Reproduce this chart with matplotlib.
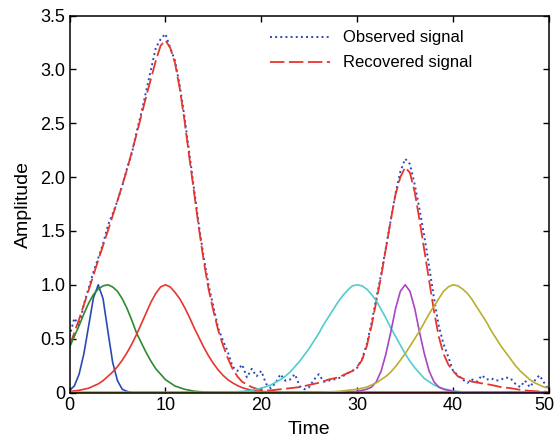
import matplotlib
matplotlib.use("Agg")
import matplotlib.pyplot as plt
import matplotlib.transforms as mtransforms

plt.rcParams['font.family'] = ['Liberation Sans', 'DejaVu Sans']

# observed (noisy) signal
obs_x = [0, 0.5, 1, 1.5, 2, 2.5, 3, 3.5, 4, 4.5, 5, 5.5, 6, 6.5, 7, 7.5, 8, 8.5, 9, 9.5,
         10, 10.5, 11, 11.5, 12, 12.5, 13, 13.5, 14, 14.5, 15, 15.5, 16, 16.5, 17, 17.5, 18, 18.5, 19, 19.5,
         20, 20.5, 21, 21.5, 22, 22.5, 23, 23.5, 24, 24.5, 25, 25.5, 26, 26.5, 27, 27.5, 28, 28.5, 29, 29.5,
         30, 30.5, 31, 31.5, 32, 32.5, 33, 33.5, 34, 34.5, 35, 35.5, 36, 36.5, 37, 37.5, 38, 38.5, 39, 39.5,
         40, 40.5, 41, 41.5, 42, 42.5, 43, 43.5, 44, 44.5, 45, 45.5, 46, 46.5, 47, 47.5, 48, 48.5, 49, 49.5, 50]
obs_y = [0.52, 0.69, 0.62, 0.82, 0.97, 1.12, 1.25, 1.38, 1.55, 1.66, 1.78, 1.92, 2.08, 2.22, 2.42, 2.60, 2.80, 3.00, 3.20, 3.28,
         3.33, 3.20, 3.08, 2.85, 2.55, 2.22, 1.88, 1.55, 1.25, 1.00, 0.80, 0.60, 0.48, 0.38, 0.24, 0.20, 0.26, 0.14, 0.22, 0.15,
         0.20, 0.08, 0.04, 0.09, 0.17, 0.11, 0.12, 0.17, 0.06, 0.03, 0.05, 0.12, 0.17, 0.10, 0.11, 0.12, 0.13, 0.15, 0.18, 0.20,
         0.23, 0.31, 0.45, 0.65, 0.88, 1.10, 1.35, 1.60, 1.85, 2.05, 2.17, 2.12, 1.93, 1.70, 1.45, 1.17, 0.88, 0.62, 0.45, 0.33,
         0.20, 0.16, 0.12, 0.09, 0.12, 0.10, 0.16, 0.12, 0.13, 0.11, 0.12, 0.14, 0.13, 0.08, 0.05, 0.11, 0.05, 0.11, 0.16, 0.09, 0.02]

# recovered signal
rec_x = [0, 1, 2, 3, 4, 5, 6, 7, 8, 9, 9.5, 10, 10.5, 11, 11.5, 12, 12.5, 13, 13.5, 14, 14.5, 15, 15.5, 16, 16.5,
         17, 17.5, 18, 19, 20, 21, 22, 23, 24, 25, 26, 27, 28, 29, 29.5, 30, 30.5, 31, 31.5, 32, 32.5, 33, 33.5,
         34, 34.5, 35, 35.5, 36, 36.5, 37, 37.5, 38, 38.5, 39, 39.5, 40, 40.5, 41, 42, 43, 44, 45, 46, 47, 48, 49, 50]
rec_y = [0.43, 0.68, 0.95, 1.23, 1.50, 1.78, 2.07, 2.40, 2.75, 3.08, 3.22, 3.27, 3.20, 3.06, 2.82, 2.52, 2.18, 1.85, 1.52, 1.22, 0.96, 0.76, 0.58, 0.44, 0.32,
         0.22, 0.15, 0.10, 0.05, 0.02, 0.02, 0.03, 0.04, 0.05, 0.07, 0.09, 0.12, 0.14, 0.18, 0.20, 0.24, 0.30, 0.43, 0.62, 0.85, 1.08, 1.34, 1.60,
         1.84, 2.00, 2.09, 2.04, 1.86, 1.60, 1.32, 1.04, 0.76, 0.52, 0.36, 0.26, 0.20, 0.15, 0.13, 0.10, 0.085, 0.07, 0.05, 0.04, 0.025, 0.015, 0.01, 0.005]

# components
c1_x = [0, 0.5, 1, 1.5, 2, 2.5, 3, 3.5, 4, 4.5, 5, 5.5, 6, 6.5, 7, 50]
c1_y = [0.02, 0.06, 0.17, 0.36, 0.62, 0.88, 1.0, 0.87, 0.57, 0.28, 0.11, 0.03, 0.01, 0.0, 0.0, 0.0]

c2_x = [0, 0.5, 1, 1.5, 2, 2.5, 3, 3.5, 4, 4.5, 5, 5.5, 6, 6.5, 7, 7.5, 8, 8.5, 9, 9.5,
        10, 10.5, 11, 11.5, 12, 13, 14, 15, 50]
c2_y = [0.42, 0.52, 0.62, 0.73, 0.83, 0.91, 0.96, 0.99, 1.0, 0.98, 0.94, 0.87, 0.78, 0.67, 0.55, 0.46, 0.37, 0.29, 0.22, 0.17,
        0.12, 0.09, 0.06, 0.045, 0.03, 0.012, 0.005, 0.0, 0.0]

c3_x = [0, 1, 2, 2.5, 3, 3.5, 4, 4.5, 5, 5.5, 6, 6.5, 7, 7.5, 8, 8.5, 9, 9.5, 10, 10.5,
        11, 11.5, 12, 12.5, 13, 13.5, 14, 14.5, 15, 15.5, 16, 16.5, 17, 17.5, 18, 19, 20, 22, 50]
c3_y = [0.01, 0.02, 0.04, 0.06, 0.08, 0.11, 0.15, 0.19, 0.24, 0.30, 0.37, 0.45, 0.54, 0.64, 0.74, 0.84, 0.92, 0.98, 1.0, 0.98,
        0.93, 0.87, 0.79, 0.70, 0.60, 0.51, 0.42, 0.34, 0.27, 0.21, 0.16, 0.12, 0.09, 0.065, 0.045, 0.02, 0.01, 0.0, 0.0]

c4_x = [0, 16, 18, 19, 20, 21, 22, 22.5, 23, 23.5, 24, 24.5, 25, 25.5, 26, 26.5, 27, 27.5, 28, 28.5,
        29, 29.5, 30, 30.5, 31, 31.5, 32, 32.5, 33, 33.5, 34, 34.5, 35, 35.5, 36, 36.5, 37, 37.5, 38, 39,
        40, 41, 42, 50]
c4_y = [0.0, 0.0, 0.01, 0.02, 0.04, 0.07, 0.12, 0.15, 0.19, 0.24, 0.29, 0.35, 0.41, 0.48, 0.55, 0.63, 0.70, 0.77, 0.84, 0.90,
        0.95, 0.99, 1.0, 0.99, 0.96, 0.91, 0.85, 0.77, 0.69, 0.60, 0.52, 0.44, 0.36, 0.29, 0.23, 0.18, 0.13, 0.10, 0.07, 0.035,
        0.015, 0.005, 0.0, 0.0]

c5_x = [0, 28, 30, 30.5, 31, 31.5, 32, 32.5, 33, 33.5, 34, 34.5, 35, 35.5, 36, 36.5, 37, 37.5, 38, 38.5,
        39, 39.5, 40, 41, 50]
c5_y = [0.0, 0.0, 0.01, 0.02, 0.03, 0.05, 0.10, 0.20, 0.36, 0.56, 0.78, 0.94, 1.0, 0.94, 0.78, 0.56, 0.36, 0.20, 0.10, 0.05,
        0.03, 0.02, 0.01, 0.0, 0.0]

c6_x = [0, 26, 28, 29, 30, 31, 31.5, 32, 32.5, 33, 33.5, 34, 34.5, 35, 35.5, 36, 36.5, 37, 37.5, 38,
        38.5, 39, 39.5, 40, 40.5, 41, 41.5, 42, 42.5, 43, 43.5, 44, 44.5, 45, 45.5, 46, 46.5, 47, 47.5, 48,
        48.5, 49, 49.5, 50]
c6_y = [0.0, 0.0, 0.01, 0.02, 0.03, 0.05, 0.07, 0.09, 0.12, 0.15, 0.19, 0.24, 0.30, 0.36, 0.43, 0.50, 0.57, 0.65, 0.73, 0.80,
        0.87, 0.94, 0.98, 1.0, 0.99, 0.96, 0.92, 0.86, 0.79, 0.72, 0.65, 0.57, 0.50, 0.43, 0.37, 0.31, 0.25, 0.20, 0.16, 0.12,
        0.09, 0.07, 0.05, 0.04]

comp_colors = ['#2b49b3', '#2f8a2f', '#e8352b', '#52cccc', '#a945c2', '#b7b02e']

fig = plt.figure(figsize=(5.55, 4.38), dpi=100)
ax = fig.add_axes([69.5 / 555, 1 - 392.5 / 438, 479.5 / 555, 377 / 438])

ax.plot(obs_x, obs_y, ':', color='#2b49b8', lw=1.4, label='Observed signal')
ax.plot(rec_x, rec_y, color='#e8352b', lw=1.3, dashes=(8, 2.5), label='Recovered signal')
for cx, cy, col in zip([c1_x, c2_x, c3_x, c4_x, c5_x, c6_x],
                       [c1_y, c2_y, c3_y, c4_y, c5_y, c6_y], comp_colors):
    ax.plot(cx, cy, color=col, lw=1.2)

ax.set_xlim(0, 50)
ax.set_ylim(0, 3.5)
ax.set_xticks([0, 10, 20, 30, 40, 50])
ax.set_yticks([0, 0.5, 1.0, 1.5, 2.0, 2.5, 3.0, 3.5])
ax.set_yticklabels(['0', '0.5', '1.0', '1.5', '2.0', '2.5', '3.0', '3.5'])
ax.tick_params(direction='in', top=True, right=True, length=4, width=1, labelsize=13, pad=3)
for s in ax.spines.values():
    s.set_linewidth(1.1)

# nudge the last x label so it stays inside the canvas
last = ax.get_xticklabels()[-1]
last.set_transform(last.get_transform() + mtransforms.ScaledTranslation(-5 / 100, 0, fig.dpi_scale_trans))

ax.set_xlabel('Time', fontsize=14, labelpad=5)
ax.set_ylabel('Amplitude', fontsize=14, labelpad=6)

ax.legend(loc='upper right', frameon=False, fontsize=12, handlelength=3.6,
          bbox_to_anchor=(0.872, 1.0), labelspacing=0.6)

fig.savefig('out.png', dpi=100)
